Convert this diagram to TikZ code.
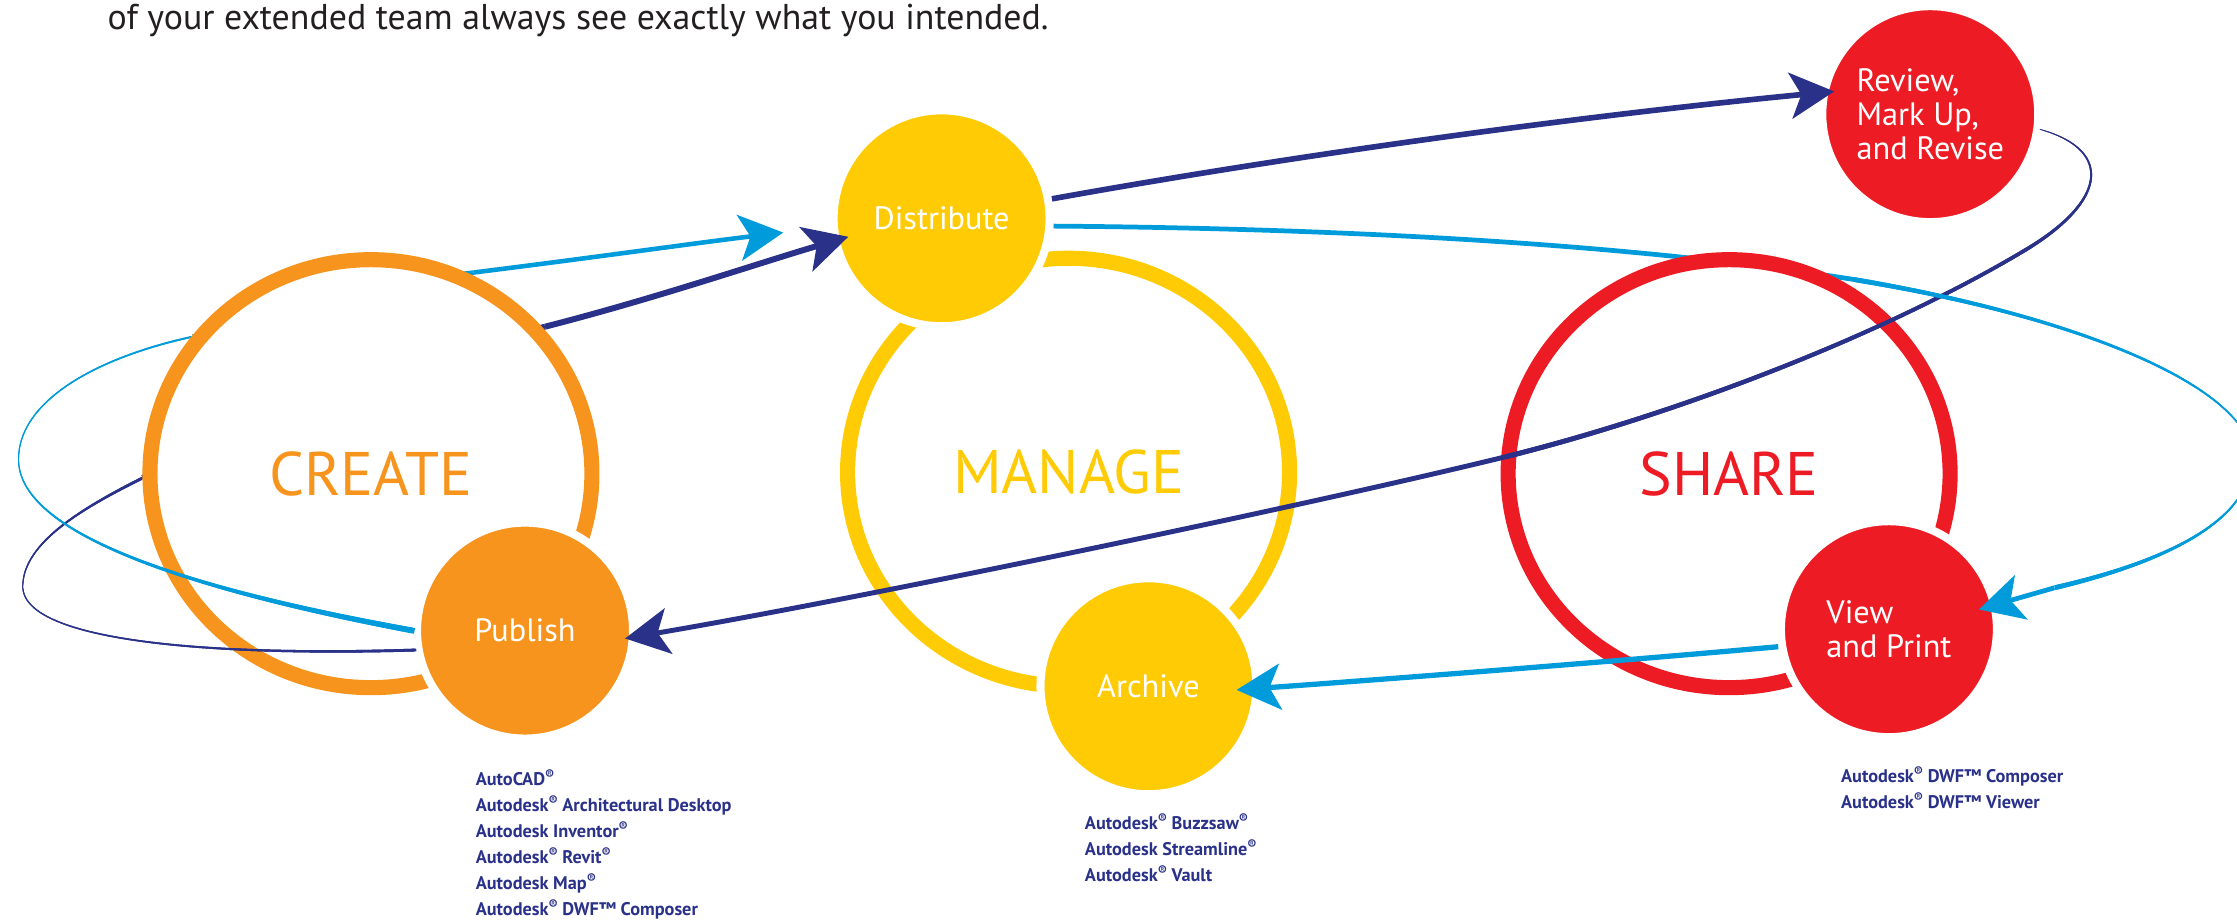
\documentclass[tikz,border=0pt]{standalone}
\usepackage{fontspec}
\setmainfont{PT Sans}
\usetikzlibrary{arrows.meta,shapes.geometric,decorations.markings}

\definecolor{createorange}{HTML}{F7941D}
\definecolor{manageyellow}{HTML}{FFCB05}
\definecolor{sharered}{HTML}{ED1C24}
\definecolor{flownavy}{HTML}{2A3188}
\definecolor{flowcyan}{HTML}{009BDB}
\definecolor{introgray}{HTML}{231F20}

\newcommand{\regd}{\raisebox{0.32em}{\fontsize{3.8}{4}\selectfont\textregistered}}
\newcommand{\tmark}{\texttrademark}

\pgfdeclarelayer{behind}
\pgfsetlayers{behind,main}

\tikzset{
  bigring/.style={ellipse, draw=#1, fill=white, line width=4.3pt, text=#1,
    minimum width=4.42cm, minimum height=4.28cm, font=\fontsize{17.5}{20}\selectfont},
  stage/.style={circle, fill=#1, draw=white, line width=2.3pt, text=white,
    minimum size=2.16cm, inner sep=0pt, align=left, font=\fontsize{9.2}{9.6}\selectfont},
  products/.style={anchor=north west, align=left, inner sep=0pt, text=flownavy,
    font=\fontsize{5.2}{7.4}\selectfont\bfseries},
  navyline/.style={draw=flownavy, line width=1.6pt},
  cyanline/.style={draw=flowcyan, line width=1.35pt},
  head/.style={-{Stealth[length=4.4mm, width=4.6mm, inset=1.1mm]}},
  taper/.style n args={3}{postaction={decorate}, decoration={markings,
    mark=between positions 0 and 1 step 0.4pt with {
      \pgfmathsetmacro\tapw{#2+(#3-#2)*\pgfkeysvalueof{/pgf/decoration/mark info/distance from start}/\pgfdecoratedpathlength}
      \draw[#1, line width=\tapw pt] (-0.45pt,0) -- (0.45pt,0);}}}
}

\begin{document}
\begin{tikzpicture}[x=0.014267cm, y=-0.014267cm]
\useasboundingbox (0,0) rectangle (1568,645);

% intro line
\node[anchor=base west, inner sep=0pt, text=introgray, font=\fontsize{10.2}{12}\selectfont]
  (intro) at (75,21) {of your extended team always see exactly what you intended.};

% the three stages
\node[bigring=createorange] (create) at (260,332) {CREATE};
\node[bigring=manageyellow] (manage) at (749,331) {MANAGE};
\node[bigring=sharered] (share) at (1212,332) {SHARE};

% the steps
\node[stage=manageyellow] (dist) at (660,153) {Distribute};
\node[stage=createorange] (publish) at (368,442) {Publish};
\node[stage=manageyellow] (archive) at (805,481) {Archive};
\node[stage=sharered] (review) at (1353,80) {Review,\\Mark Up,\\and Revise};
\node[stage=sharered] (view) at (1324,441) {View\\and Print};

% turning points of the loops
\coordinate (capex) at (13,322);
\coordinate (cin) at (135,236);
\coordinate (cout) at (332,191);
\coordinate (ctip) at (549,163);
\coordinate (napex) at (16,411);
\coordinate (nin) at (100,335);
\coordinate (nout) at (382,229);
\coordinate (nr1) at (1420,175);
\coordinate (nr2) at (1056,320);
\coordinate (cbend) at (1300,196);
\coordinate (capexr) at (1578,325);
\coordinate (cr3) at (1440,412);

% parts that run behind the circles
\begin{pgfonlayer}{behind}
  \path[taper={flowcyan}{0.3}{0.5}] (capex) .. controls (13,280) and (70,250) .. (cin);
  \draw[cyanline, line width=1.3pt] (cin) .. controls (200,222) and (260,200) .. (cout);
  \path[taper={flownavy}{0.3}{0.8}] (napex) .. controls (16,380) and (60,355) .. (nin);
  \draw[navyline, line width=1.7pt] (nin) .. controls (180,295) and (300,250) .. (nout);
  \draw[cyanline] (dist.-4) .. controls (950,160) and (1150,172) .. (cbend);
\end{pgfonlayer}

% Publish -> Distribute
\path[taper={flowcyan}{1.6}{0.3}] (publish.180) .. controls (160,418) and (13,380) .. (capex);
\path[taper={flownavy}{0.8}{0.3}] (publish.190) .. controls (150,460) and (16,450) .. (napex);
\draw[cyanline, line width=1.3pt, head] (cout) .. controls (420,180) and (490,170) .. (ctip);
\draw[navyline, line width=1.7pt, head, shorten >=-0.17cm] (nout) .. controls (460,209) and (530,185) .. (dist.192);

% Distribute -> Review
\draw[navyline, head, shorten >=-0.14cm] (dist.10) .. controls (900,110) and (1100,82) .. (review.169);

% Review -> Publish
\path[taper={flownavy}{0.2}{1.0}] (review.-8) .. controls (1480,105) and (1478,140) .. (nr1);
\path[taper={flownavy}{1.0}{1.4}] (nr1) .. controls (1320,235) and (1176,290) .. (nr2);
\draw[navyline, line width=1.4pt, head, shorten >=-0.12cm] (nr2) .. controls (900,358) and (600,420) .. (publish.-3);

% Distribute -> View
\path[taper={flowcyan}{1.35}{0.3}] (cbend) .. controls (1480,226) and (1585,280) .. (capexr);
\path[taper={flowcyan}{0.3}{1.35}] (capexr) .. controls (1574,372) and (1500,398) .. (cr3);
\draw[cyanline, head, shorten >=-0.2cm] (cr3) -- (view.13);

% View -> Archive
\draw[cyanline, line width=1.5pt, head, shorten >=-0.24cm] (view.189) .. controls (1150,462) and (1000,474) .. (archive.-1);

% products
\node[products] (createapps) at (333,539) {AutoCAD\regd\\Autodesk\regd{} Architectural Desktop\\Autodesk Inventor\regd\\Autodesk\regd{} Revit\regd\\Autodesk Map\regd\\Autodesk\regd{} DWF\tmark{} Composer};
\node[products] (manageapps) at (760,570) {Autodesk\regd{} Buzzsaw\regd\\Autodesk Streamline\regd\\Autodesk\regd{} Vault};
\node[products] (shareapps) at (1290,537) {Autodesk\regd{} DWF\tmark{} Composer\\Autodesk\regd{} DWF\tmark{} Viewer};
\end{tikzpicture}
\end{document}
